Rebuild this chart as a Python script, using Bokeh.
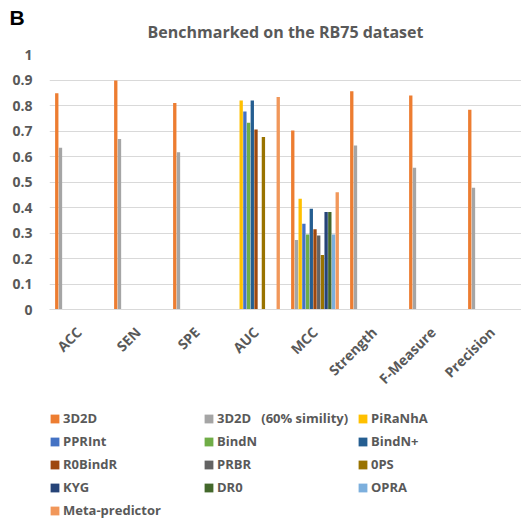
import math
from bokeh.plotting import figure
from bokeh.layouts import column
from bokeh.models import (ColumnDataSource, FactorRange, Legend, LegendItem, Title,
                          FixedTicker, NumeralTickFormatter, Range1d)
from bokeh.transform import dodge
from bokeh.embed import file_html
from bokeh.resources import INLINE

NA = float("nan")

categories = ["ACC", "SEN", "SPE", "AUC", "MCC", "Strength", "F-Measure", "Precision"]

series_names = ["3D2D", "3D2D   (60% simility)", "PiRaNhA", "PPRInt", "BindN", "BindN+",
                "R0BindR", "PRBR", "0PS", "KYG", "DR0", "OPRA", "Meta-predictor"]

s_3d2d      = [0.848, 0.898, 0.810, NA,    0.702, 0.856, 0.839, 0.783]
s_3d2d_60   = [0.634, 0.669, 0.617, NA,    0.273, 0.643, 0.556, 0.477]
s_piranha   = [NA,    NA,    NA,    0.820, 0.434, NA,    NA,    NA]
s_pprint    = [NA,    NA,    NA,    0.776, 0.336, NA,    NA,    NA]
s_bindn     = [NA,    NA,    NA,    0.732, 0.294, NA,    NA,    NA]
s_bindn_p   = [NA,    NA,    NA,    0.820, 0.395, NA,    NA,    NA]
s_r0bindr   = [NA,    NA,    NA,    0.706, 0.315, NA,    NA,    NA]
s_prbr      = [NA,    NA,    NA,    NA,    0.290, NA,    NA,    NA]
s_0ps       = [NA,    NA,    NA,    0.676, 0.214, NA,    NA,    NA]
s_kyg       = [NA,    NA,    NA,    NA,    0.382, NA,    NA,    NA]
s_dr0       = [NA,    NA,    NA,    NA,    0.382, NA,    NA,    NA]
s_opra      = [NA,    NA,    NA,    NA,    0.294, NA,    NA,    NA]
s_meta      = [NA,    NA,    NA,    0.833, 0.460, NA,    NA,    NA]

series_values = [s_3d2d, s_3d2d_60, s_piranha, s_pprint, s_bindn, s_bindn_p, s_r0bindr,
                 s_prbr, s_0ps, s_kyg, s_dr0, s_opra, s_meta]

colors = ["#ED7D31", "#A5A5A5", "#FFC000", "#4472C4", "#70AD47", "#255E91", "#9E480E",
          "#636363", "#997300", "#264478", "#43682B", "#7CAFDD", "#F1975A"]

y_ticks = [0, 0.1, 0.2, 0.3, 0.4, 0.5, 0.6, 0.7, 0.8, 0.9, 1.0]

FONT = "Open Sans"
TXT = "#595959"
GRID = "#D9D9D9"

# ---------------- main chart ----------------
p = figure(width=521, height=400, x_range=FactorRange(*categories, range_padding=0),
           y_range=Range1d(0, 1), output_backend="svg", toolbar_location=None,
           min_border_left=49, min_border_right=0, min_border_top=54, min_border_bottom=91,
           title="B")
p.outline_line_color = None
p.background_fill_color = "white"

# panel letter (outer title row)
p.title.align = "left"
p.title.offset = -40
p.title.standoff = -42
p.title.text_font = "Liberation Sans"
p.title.text_font_style = "bold"
p.title.text_font_size = "21px"
p.title.text_color = "black"

# chart title (inner title row)
p.add_layout(Title(text="Benchmarked on the RB75 dataset", align="center", offset=-3,
                   standoff=23, text_font=FONT, text_font_style="bold",
                   text_font_size="16px", text_color=TXT), "above")

slot = 0.0628
n = len(series_names)
renderers = []
for k in range(n):
    src = ColumnDataSource(dict(cat=categories, top=series_values[k]))
    off = (k - (n - 1) / 2) * slot
    r = p.vbar(x=dodge("cat", off, range=p.x_range), top="top", bottom=0, width=slot * 0.9,
               source=src, fill_color=colors[k], line_color=None)
    renderers.append(r)

p.yaxis.ticker = FixedTicker(ticks=y_ticks)
p.yaxis.formatter = NumeralTickFormatter(format="0.[0]")
p.yaxis.axis_line_color = None
p.yaxis.major_tick_line_color = None
p.yaxis.minor_tick_line_color = None
p.yaxis.major_label_standoff = 11
p.yaxis.major_label_text_font = FONT
p.yaxis.major_label_text_font_style = "bold"
p.yaxis.major_label_text_font_size = "14px"
p.yaxis.major_label_text_color = TXT

p.xaxis.axis_line_color = GRID
p.xaxis.major_tick_line_color = None
p.xaxis.minor_tick_line_color = None
p.xaxis.major_label_orientation = math.pi / 4
p.xaxis.major_label_standoff = 14
p.xaxis.major_label_text_font = FONT
p.xaxis.major_label_text_font_style = "bold"
p.xaxis.major_label_text_font_size = "14px"
p.xaxis.major_label_text_color = TXT

p.xgrid.grid_line_color = None
p.ygrid.grid_line_color = GRID
p.ygrid.grid_line_width = 1

# ---------------- legend panel ----------------
lf = figure(width=521, height=119, output_backend="svg", toolbar_location=None,
            x_axis_location=None, y_axis_location=None, min_border=0,
            x_range=Range1d(0, 1), y_range=Range1d(0, 1))
lf.outline_line_color = None
lf.grid.visible = False

# legend-only glyphs (zero height, so nothing is drawn in the panel itself)
legend_renderers = []
for k in range(n):
    rr = lf.vbar(x=[0.5], top=[0], bottom=0, width=0.01, fill_color=colors[k],
                 line_color=None)
    legend_renderers.append(rr)

items = [LegendItem(label=series_names[k], renderers=[legend_renderers[k]]) for k in range(n)]
legend = Legend(items=items, orientation="horizontal", ncols=3, location=(0, 0),
                glyph_width=11, glyph_height=11, label_height=18, label_width=135,
                spacing=5, label_standoff=3, padding=0, margin=0,
                border_line_color=None, background_fill_alpha=0,
                label_text_font=FONT, label_text_font_style="bold",
                label_text_font_size="13px", label_text_color=TXT)
lf.add_layout(legend)

layout = column(p, lf, spacing=0)
open("out.html", "w").write(file_html(layout, INLINE))
